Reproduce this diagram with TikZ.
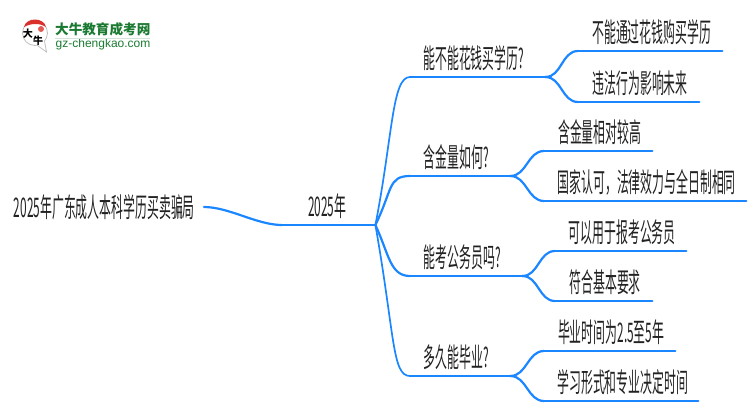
\documentclass[tikz,border=0pt]{standalone}
\usepackage{fontspec}
\usepackage{tikz}
\newfontfamily\cjk[FakeStretch=0.44]{Noto Sans CJK SC}
\newfontfamily\cjklogo{Noto Sans CJK SC}
\newfontfamily\latinlogo{Liberation Sans}
\definecolor{linkblue}{HTML}{1A86FF}
\definecolor{labelgrey}{HTML}{222222}
\definecolor{logogreen}{HTML}{1B7A32}
\definecolor{logored}{HTML}{D9302C}
\tikzset{
	lab/.style={anchor=south west, inner xsep=0pt, inner ysep=0pt, text height=21pt, text depth=8.5pt, text=labelgrey, font=\cjk\fontsize{27}{27}\selectfont, execute at begin node=\hspace{3pt}},
	topic/.style={lab, execute at end node=\hspace{11pt}},
	link/.style={draw=linkblue, line width=2.2pt, line cap=round},
	logotext/.style={anchor=west, inner sep=0pt, text=logogreen}
}
\begin{document}
\begin{tikzpicture}[x=1pt,y=-1pt]
	\useasboundingbox (0,0) rectangle (750,410);

	\node (root) [anchor=east, inner xsep=0pt, inner ysep=0pt, text=labelgrey, font=\cjk\fontsize{27}{27}\selectfont, execute at end node=\hspace{9pt}] at (204,207) {2025年广东成人本科学历买卖骗局};
	\node (year) [lab, minimum width=93pt, execute at end node=\hspace{6pt}] at (282,225) {2025年};

	\node (q1) [topic, minimum width=135pt] at (410,77) {能不能花钱买学历?};
	\node (q2) [topic, minimum width=100pt] at (410,176) {含金量如何?};
	\node (q3) [topic, minimum width=112pt] at (410,276) {能考公务员吗?};
	\node (q4) [topic, minimum width=100pt] at (410,376) {多久能毕业?};

	\node (a1) [lab, minimum width=144pt] at (578,51) {不能通过花钱购买学历};
	\node (a2) [lab, minimum width=121pt] at (578,102) {违法行为影响未来};
	\node (b1) [lab, minimum width=108pt] at (544,151) {含金量相对较高};
	\node (b2) [lab, minimum width=202pt] at (544,201) {国家认可，法律效力与全日制相同};
	\node (c1) [lab, minimum width=131pt] at (555,251) {可以用于报考公务员};
	\node (c2) [lab, minimum width=97pt] at (555,301) {符合基本要求};
	\node (d1) [lab, minimum width=131pt] at (544,351) {毕业时间为2.5至5年};
	\node (d2) [lab, minimum width=154pt] at (544,401) {学习形式和专业决定时间};

	\path (root.east) edge [link, out=0, in=180, looseness=.8] (year.south west);
	\path (year.south west) edge [link] (year.south east);

	\path (year.south east) edge [link, line width=1.7pt, out=79, in=180, out distance=92pt, in distance=18pt] (q1.south west);
	\path (year.south east) edge [link, out=64, in=180, out distance=39pt, in distance=22pt] (q2.south west);
	\path (year.south east) edge [link, out=-65, in=180, out distance=32pt, in distance=20pt] (q3.south west);
	\path (year.south east) edge [link, line width=1.7pt, out=-80, in=180, out distance=112pt, in distance=18pt] (q4.south west);

	\path (q1.south west) edge [link] (q1.south east);
	\path (q2.south west) edge [link] (q2.south east);
	\path (q3.south west) edge [link] (q3.south east);
	\path (q4.south west) edge [link] (q4.south east);

	\path (q1.south east) edge [link, out=0, in=180] (a1.south west);
	\path (q1.south east) edge [link, out=0, in=180] (a2.south west);
	\path (q2.south east) edge [link, out=0, in=180] (b1.south west);
	\path (q2.south east) edge [link, out=0, in=180] (b2.south west);
	\path (q3.south east) edge [link, out=0, in=180] (c1.south west);
	\path (q3.south east) edge [link, out=0, in=180] (c2.south west);
	\path (q4.south east) edge [link, out=0, in=180] (d1.south west);
	\path (q4.south east) edge [link, out=0, in=180] (d2.south west);

	\path (a1.south west) edge [link] (a1.south east);
	\path (a2.south west) edge [link] (a2.south east);
	\path (b1.south west) edge [link] (b1.south east);
	\path (b2.south west) edge [link] (b2.south east);
	\path (c1.south west) edge [link] (c1.south east);
	\path (c2.south west) edge [link] (c2.south east);
	\path (d1.south west) edge [link] (d1.south east);
	\path (d2.south west) edge [link] (d2.south east);

	% logo
	\draw [black!25, fill=white, line width=.8pt] (35,33) circle (12.5);
	\fill [white] (37,43) -- (46,51) -- (44,40) -- cycle;
	\draw [black!25, line width=.8pt] (37,45.2) -- (46.5,52) -- (44.5,41);
	\fill [logored] (24,27) .. controls (26,17) and (44,17) .. (46,27) .. controls (40,23) and (31,23) .. (24,27);
	\fill [logored!80] (41,29) circle (3);
	\node (logoda) [inner sep=0pt, font=\cjklogo\bfseries\fontsize{10}{10}\selectfont] at (28,34) {大};
	\node (logoniu) [inner sep=0pt, font=\cjklogo\bfseries\fontsize{10}{10}\selectfont] at (38,41) {牛};
	\node (logoname) [logotext, font=\cjklogo\bfseries\fontsize{13.6}{14}\selectfont] at (55,29.5) {大牛教育成考网};
	\node (logourl) [logotext, font=\latinlogo\fontsize{12}{12}\selectfont] at (55.5,44.5) {gz-chengkao.com};
	\draw [logogreen!20, line width=1pt] (logoname.south west) ++(0,2) -- ++(95,0);
\end{tikzpicture}
\end{document}
